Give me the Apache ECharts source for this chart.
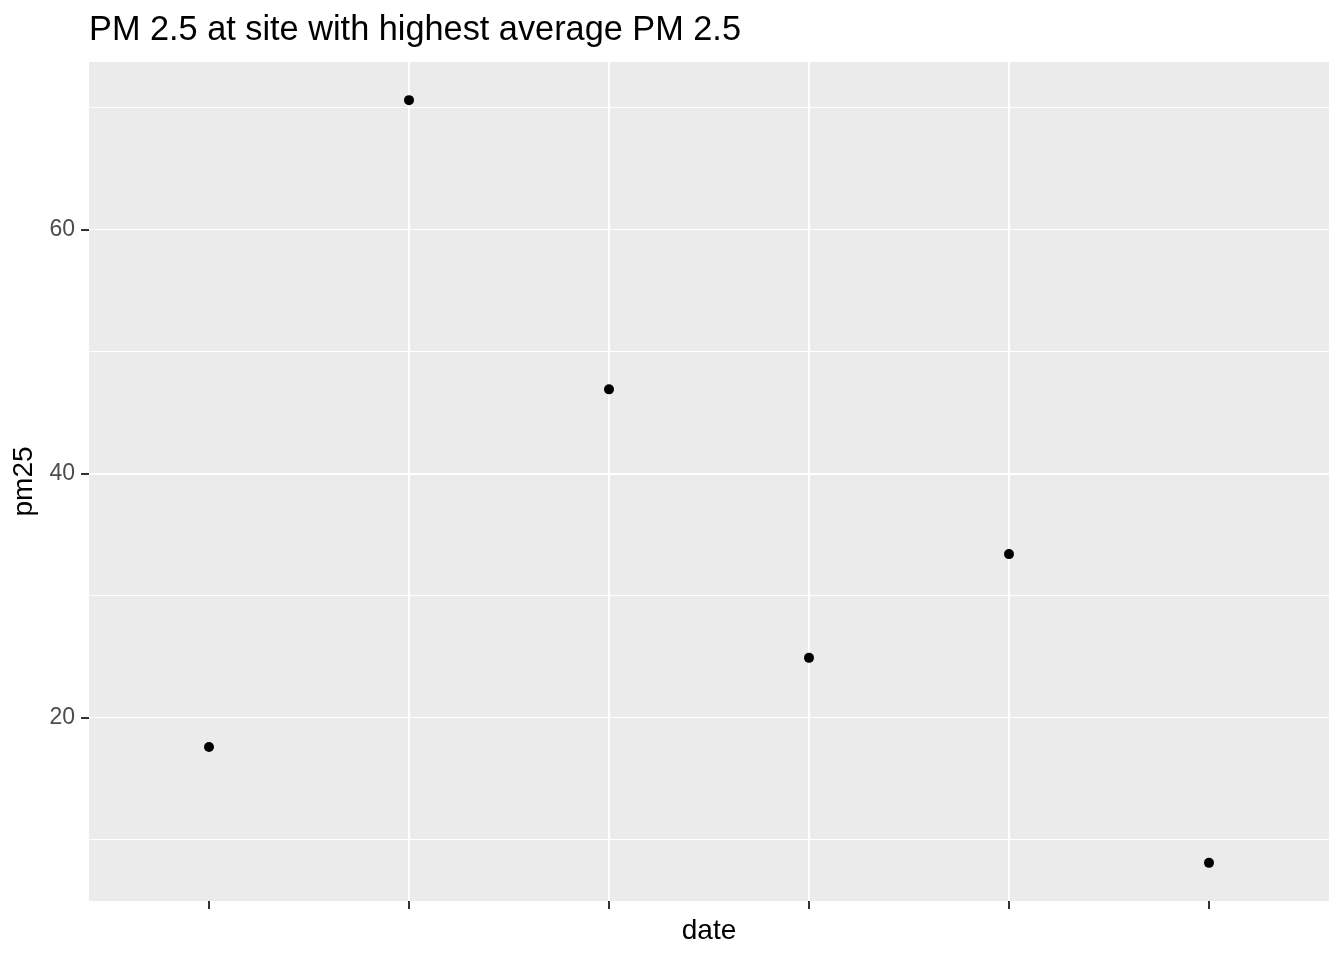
<!DOCTYPE html>
<html>
<head>
<meta charset="utf-8">
<script src="https://cdn.jsdelivr.net/npm/echarts@6/dist/echarts.min.js"></script>
<style>
  html, body { margin: 0; padding: 0; background: #fff; }
  #chart { width: 1344px; height: 960px; }
</style>
</head>
<body>
<div id="chart"></div>
<script>
// data
var dateLabels = ['', '', '', '', '', ''];
var pm25 = [17.6, 70.6, 46.9, 24.9, 33.4, 8.1];
var yTicks = [20, 40, 60];

var points = [];
for (var i = 0; i < pm25.length; i++) {
    points.push([i + 1, pm25[i]]);
}
var xTicks = [];
for (var j = 0; j < dateLabels.length; j++) {
    xTicks.push(j + 1);
}

// ggplot style expansion: 5% on y, 0.6 units on discrete x
var lo = Math.min.apply(null, pm25), hi = Math.max.apply(null, pm25);
var pad = (hi - lo) * 0.05;
var yMin = lo - pad, yMax = hi + pad;

var font = 'Liberation Sans, Arial, sans-serif';

var myChart = echarts.init(document.getElementById('chart'));
var option = {
    animation: false,
    title: {
        text: 'PM 2.5 at site with highest average PM 2.5',
        left: 89,
        top: 14,
        padding: 0,
        textStyle: { fontFamily: font, fontSize: 34.3, fontWeight: 'normal', color: '#000' }
    },
    grid: {
        left: 89, right: 15, top: 62, bottom: 59,
        show: true, backgroundColor: '#EBEBEB', borderWidth: 0
    },
    xAxis: {
        type: 'value',
        min: 0.4,
        max: dateLabels.length + 0.6,
        splitNumber: 6,
        name: 'date',
        nameLocation: 'middle',
        nameGap: 16,
        nameTextStyle: { fontFamily: font, fontSize: 28, color: '#000' },
        axisLine: { show: false },
        axisTick: { show: true, length: 8, lineStyle: { color: '#333', width: 2 }, customValues: xTicks },
        axisLabel: {
            customValues: xTicks,
            formatter: function (v) { return dateLabels[Math.round(v) - 1] || ''; }
        },
        splitLine: { show: true, showMinLine: false, showMaxLine: false, lineStyle: { color: '#fff', width: 2 } }
    },
    yAxis: [{
        type: 'value',
        min: yMin,
        max: yMax,
        splitNumber: 3,
        name: 'pm25',
        nameLocation: 'middle',
        nameGap: 46,
        nameTextStyle: { fontFamily: font, fontSize: 28, color: '#000' },
        axisLine: { show: false },
        axisTick: { show: true, length: 8, lineStyle: { color: '#333', width: 2 }, customValues: yTicks },
        axisLabel: { customValues: yTicks, margin: 14, fontFamily: font, fontSize: 23, color: '#4D4D4D' },
        splitLine: { show: true, showMinLine: false, showMaxLine: false, lineStyle: { color: '#fff', width: 2 } }
    }, {
        // minor grid lines
        type: 'value',
        min: yMin,
        max: yMax,
        splitNumber: 6,
        position: 'left',
        axisLine: { show: false },
        axisTick: { show: false },
        axisLabel: { show: false },
        splitLine: { show: true, showMinLine: false, showMaxLine: false, lineStyle: { color: '#fff', width: 1 } }
    }],
    series: [{
        type: 'scatter',
        data: points,
        symbol: 'circle',
        symbolSize: 10,
        itemStyle: { color: '#000', opacity: 1 }
    }]
};
myChart.setOption(option);
</script>
</body>
</html>
